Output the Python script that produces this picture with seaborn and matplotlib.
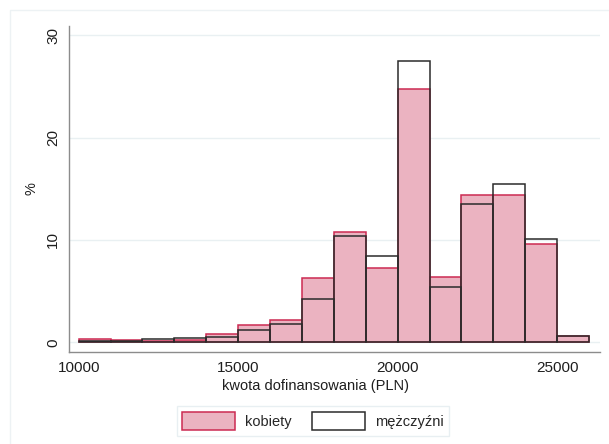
import pandas as pd
import seaborn as sns
import matplotlib.pyplot as plt
from matplotlib.patches import Patch, Rectangle

# Bin starts (width 1000 PLN) and percentage per bin
bin_starts = list(range(10000, 26000, 1000))
kobiety = [0.35, 0.22, 0.15, 0.25, 0.85, 1.7, 2.2, 6.25,
           10.8, 7.3, 24.7, 6.4, 14.35, 14.35, 9.6, 0.6]
mezczyzni = [0.13, 0.1, 0.3, 0.4, 0.55, 1.17, 1.75, 4.25,
             10.4, 8.45, 27.5, 5.4, 13.5, 15.45, 10.05, 0.65]
y_ticks = [0, 10, 20, 30]
x_ticks = [10000, 15000, 20000, 25000]

df = pd.DataFrame({
    "kwota": [b + 500 for b in bin_starts],
    "kobiety": kobiety,
    "mezczyzni": mezczyzni,
})
edges = bin_starts + [bin_starts[-1] + 1000]

pink = "#ebb3c1"
crimson = "#cc2a52"
dark = "#2b2b2b"

sns.set_style("white")
plt.rcParams["font.family"] = ["Liberation Sans", "DejaVu Sans"]

fig = plt.figure(figsize=(6.09, 4.44), dpi=100)
ax = fig.add_axes([69 / 609, 1 - 352 / 444, 531 / 609, 326 / 444])

sns.histplot(data=df, x="kwota", weights="kobiety", bins=edges,
             color=pink, edgecolor=crimson, linewidth=1.1, alpha=1, ax=ax)
sns.histplot(data=df, x="kwota", weights="mezczyzni", bins=edges,
             fill=False, color=dark, linewidth=1.1, ax=ax)

ax.set_xlim(9696, 26342)
ax.set_ylim(-0.95, 30.9)
ax.set_xticks(x_ticks)
ax.set_yticks(y_ticks)
ax.yaxis.grid(True, color="#e9f0f2", linewidth=1.0)
ax.set_axisbelow(True)

sns.despine(ax=ax)
for s in ["left", "bottom"]:
    ax.spines[s].set_color("#8c8c8c")
    ax.spines[s].set_linewidth(1.0)

ax.tick_params(direction="out", length=4.5, width=0.8, color="#8c8c8c",
               labelsize=11, labelcolor="#1e1e1e", pad=2)
plt.setp(ax.get_yticklabels(), rotation=90, va="center")

ax.set_xlabel("kwota dofinansowania (PLN)", fontsize=10.5, color="#1e1e1e")
ax.xaxis.set_label_coords((315 - 69) / 531, -0.083)
ax.set_ylabel("%", fontsize=10.5, color="#1e1e1e")
ax.yaxis.set_label_coords((39 - 69) / 531, 0.5)

handles = [Patch(facecolor=pink, edgecolor=crimson, linewidth=1.1, label="kobiety"),
           Patch(facecolor="white", edgecolor=dark, linewidth=1.1, label="mężczyźni")]
leg = fig.legend(handles=handles, loc="center", bbox_to_anchor=(313 / 609, 1 - 421 / 444),
                 ncol=2, frameon=True, fancybox=False, fontsize=10.5,
                 handlelength=3.6, handleheight=1.6, handletextpad=0.7,
                 columnspacing=1.4, borderpad=0.4)
leg.get_frame().set_edgecolor("#e3ecef")
leg.get_frame().set_linewidth(1.0)

# faint outer graph-region border
fig.patches.append(Rectangle((10 / 609, -0.01), 1.0, 1 - 10 / 444 + 0.01,
                             transform=fig.transFigure, fill=False,
                             edgecolor="#edf2f4", linewidth=1.0))

fig.savefig("out.png", dpi=100)
